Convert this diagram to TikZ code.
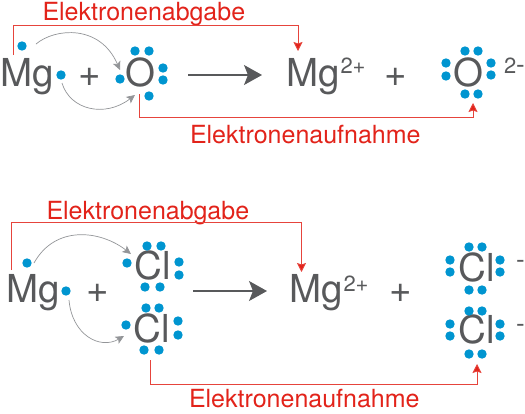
\documentclass[tikz,border=0pt]{standalone}
\usepackage{fontspec}
\setmainfont{TeX Gyre Heros}
\usetikzlibrary{arrows.meta}
\definecolor{ink}{HTML}{58595B}
\definecolor{elred}{HTML}{E2231A}
\definecolor{elblue}{HTML}{0095D0}
\definecolor{curvegrey}{HTML}{939598}
\tikzset{
  base/.style={inner sep=0pt,outer sep=0pt,anchor=base west},
  atom/.style={base,text=ink,font=\fontsize{38.5}{38.5}\selectfont},
  sup/.style={base,text=ink,font=\fontsize{22}{22}\selectfont},
  dash sign/.style={base,text=ink,font=\fontsize{26}{26}\selectfont},
  lab/.style={base,text=elred,font=\fontsize{25}{25}\selectfont},
  eldot/.style={circle,fill=elblue,minimum size=9.4pt,inner sep=0pt,outer sep=0pt},
  redline/.style={draw=elred!85,line width=0.8pt,-{Stealth[length=9pt,width=9pt,inset=1.5pt,fill=elred]}},
  curve/.style={draw=curvegrey,line width=0.7pt,-{Stealth[length=8.5pt,width=8pt,inset=2pt]}},
  reaction/.style={draw=ink,line width=1.3pt,-{Stealth[length=18pt,width=20pt,inset=4pt]}}
}
\begin{document}
\begin{tikzpicture}[x=1pt,y=-1pt]
\useasboundingbox (0,0) rectangle (525,413);
% top row
\node[atom] (mgA) at (0.5,86) {Mg};
\node[atom] (plusA) at (78,86) {+};
\node[atom] (oA) at (125.5,86) {O};
\node[atom] (mgB) at (286,86) {Mg};
\node[sup] (chgB) at (340.5,73) {2+};
\node[atom] (plusB) at (384,86) {+};
\node[atom] (oB) at (453,86) {O};
\node[sup] (chgC) at (504,73) {2\fontsize{26}{26}\selectfont -};
\node[lab] (abA) at (42.5,20.7) {Elektronenabgabe};
\node[lab] (aufA) at (190,143) {Elektronenaufnahme};
% bottom row
\node[atom] (mgC) at (6,302.5) {Mg};
\node[atom] (plusC) at (86,302) {+};
\node[atom] (clA) at (134.5,279) {Cl};
\node[atom] (clB) at (133.5,342) {Cl};
\node[atom] (mgD) at (289,302.5) {Mg};
\node[sup] (chgD) at (343.5,291) {2+};
\node[atom] (plusD) at (389,302) {+};
\node[atom] (clC) at (458.5,281) {Cl};
\node[atom] (clD) at (458.5,343) {Cl};
\node[dash sign] (chgE) at (516,268.5) {-};
\node[dash sign] (chgF) at (516,332.5) {-};
\node[lab] (abB) at (46.5,219) {Elektronenabgabe};
\node[lab] (aufB) at (189,407) {Elektronenaufnahme};
% electrons
\foreach \n/\x/\y in {
 a1/22/46,a2/61/75,
 b1/135/51,b2/149/51,b3/163/68,b4/163/80,b5/120/79,b6/149/96,
 c1/465/51,c2/478/51,c3/446/63,c4/446/76,c5/491/63,c6/491/75,c7/465/94,c8/478/94,
 d1/27/263,d2/66/291,
 e1/147/246,e2/161/246,e3/127/263,e4/179/262,e5/179/275,e6/145/287,e7/160/287,
 f1/146/308,f2/159/308,f3/126/325,f4/178/321,f5/178/335,f6/144/350,f7/159/350,
 g1/469/247,g2/482/247,g3/450/260,g4/450/272,g5/500/260,g6/500/272,g7/469/290,g8/482/290,
 h1/469/311,h2/482/311,h3/450/324,h4/450/336,h5/500/324,h6/500/336,h7/469/354,h8/482/354}
 {\node[eldot] (\n) at (\x,\y) {};}
% free ends of connectors
\coordinate (rA0) at (13,55);   \coordinate (rA1) at (13,25);   \coordinate (rA2) at (298,25);  \coordinate (rA3) at (298,51);
\coordinate (rB0) at (139,94);  \coordinate (rB1) at (139,117); \coordinate (rB2) at (473,117); \coordinate (rB3) at (473,103);
\coordinate (rC0) at (11.5,270);\coordinate (rC1) at (11.5,222.7);\coordinate (rC2) at (301.5,222.7);\coordinate (rC3) at (301.5,272);
\coordinate (rD0) at (150.5,360);\coordinate (rD1) at (150.5,384.7);\coordinate (rD2) at (477,384.7);\coordinate (rD3) at (477,364);
\coordinate (aS) at (188,75);  \coordinate (aE) at (262,75);
\coordinate (bS) at (193,291); \coordinate (bE) at (267,291);
\coordinate (cA0) at (36,44);  \coordinate (cA1) at (120,70);
\coordinate (cB0) at (62,83);  \coordinate (cB1) at (135,95);
\coordinate (cC0) at (34,263); \coordinate (cC1) at (131,254);
\coordinate (cD0) at (69,300); \coordinate (cD1) at (124,336);
% connectors
\draw[redline] (rA0) -- (rA1) -- (rA2) -- (rA3);
\draw[redline] (rB0) -- (rB1) -- (rB2) -- (rB3);
\draw[redline] (rC0) -- (rC1) -- (rC2) -- (rC3);
\draw[redline] (rD0) -- (rD1) -- (rD2) -- (rD3);
\draw[reaction] (aS) -- (aE);
\draw[reaction] (bS) -- (bE);
\draw[curve] (cA0) .. controls (55,28) and (100,24) .. (cA1);
\draw[curve] (cB0) .. controls (70,110) and (105,118) .. (cB1);
\draw[curve] (cC0) .. controls (55,225) and (100,230) .. (cC1);
\draw[curve] (cD0) .. controls (72,335) and (100,350) .. (cD1);
\end{tikzpicture}
\end{document}
